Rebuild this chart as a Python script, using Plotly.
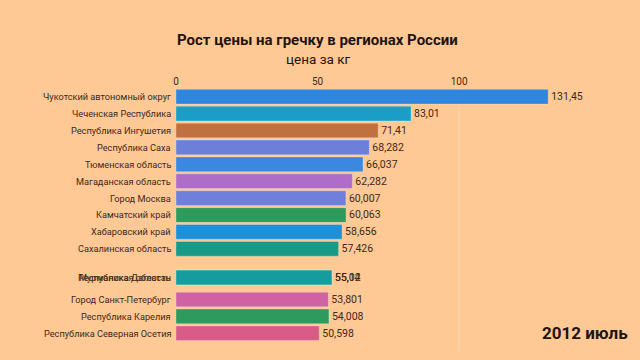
import plotly.graph_objects as go

regions = [
    "Чукотский автономный округ", "Чеченская Республика", "Республика Ингушетия",
    "Республика Саха", "Тюменская область", "Магаданская область", "Город Москва",
    "Камчатский край", "Хабаровский край", "Сахалинская область",
    "Мурманская область", "Республика Дагестан",
    "Город Санкт-Петербург", "Республика Карелия", "Республика Северная Осетия",
]
prices = [131.45, 83.01, 71.41, 68.282, 66.037, 62.282, 60.007, 60.063, 58.656,
          57.426, 55.12, 55.04, 53.801, 54.008, 50.598]
# interpolated rank of each region in this frame of the race
ranks = [1, 2, 3, 4, 5, 6, 7, 8, 9, 10, 11.7, 11.7, 13, 14, 15]
colors = ["#2f86df", "#1a9dc6", "#c1703f", "#6c80da", "#3b88e0", "#b06cc9",
          "#6e7fdc", "#2f9a5b", "#1c91d9", "#179a86", "#15a0a2", "#169c9c",
          "#d061a2", "#2e9a5c", "#d85b88"]
period = "2012 июль"
title = "Рост цены на гречку в регионах России"
subtitle = "цена за кг"
x_ticks = [0, 50, 100]

def fmt(v):
    s = f"{v:.3f}".rstrip("0").rstrip(".")
    return s.replace(".", ",")

TXT = "#40281a"
DARK = "#1e1410"
BG = "#ffc996"
FONT = "Roboto"

fig = go.Figure()
for name, v, r, c in zip(regions, prices, ranks, colors):
    fig.add_trace(go.Bar(
        x=[v], y=[r], orientation="h", name=name,
        marker=dict(color=c, line=dict(color="rgba(255,255,255,0.25)", width=1)),
        width=0.87,
        text=[fmt(v)], textposition="outside",
        textfont=dict(size=10.5, color=TXT, family=FONT),
        cliponaxis=False, constraintext="none", hoverinfo="skip",
    ))
    fig.add_annotation(x=0, xref="paper", y=r, yref="y", text=name,
                       xanchor="right", xshift=-3, showarrow=False,
                       font=dict(size=9.2, color=TXT, family=FONT))

fig.add_shape(type="line", x0=100, x1=100, xref="x", y0=0, y1=1, yref="paper",
              line=dict(color="rgba(235,225,215,0.6)", width=1), layer="below")

fig.add_annotation(x=0.313, xref="paper", xanchor="center", y=1.185, yref="paper",
                   yanchor="middle", text=f"<b>{title}</b>", showarrow=False,
                   font=dict(size=15, color=DARK, family=FONT))
fig.add_annotation(x=0.313, xref="paper", xanchor="center", y=1.112, yref="paper",
                   yanchor="middle", text=subtitle, showarrow=False,
                   font=dict(size=13.5, color=DARK, family=FONT))
fig.add_annotation(x=1.002, xref="paper", y=0.065, yref="paper", xanchor="right",
                   yanchor="middle", text=f"<b>{period}</b>", showarrow=False,
                   font=dict(size=17, color=DARK, family=FONT))

fig.update_layout(
    width=640, height=360,
    paper_bgcolor=BG, plot_bgcolor=BG,
    margin=dict(l=176, r=11, t=88, b=10),
    showlegend=False, barmode="overlay",
    xaxis=dict(range=[0, 160], side="top", tickvals=x_ticks, showgrid=False,
               zeroline=False, showline=False, ticks="",
               tickfont=dict(size=10, color=TXT, family=FONT)),
    yaxis=dict(range=[15.99, 0.485], showticklabels=False, showgrid=False,
               zeroline=False, showline=False),
)

fig.write_html("out.html", config={"displayModeBar": False},
               post_script="document.body.style.margin='0';")
